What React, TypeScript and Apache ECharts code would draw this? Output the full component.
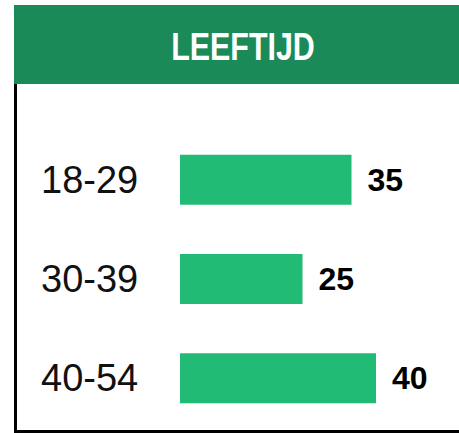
import React, { useEffect, useRef } from "react";
import * as echarts from "echarts";

const categories = ["18-29", "30-39", "40-54"];
const values = [35, 25, 40];
const titleText = "LEEFTIJD";

export default function App() {
  const ref = useRef<HTMLDivElement>(null);
  useEffect(() => {
    document.body.style.margin = "0";
    const chart = echarts.init(ref.current!, null, { renderer: "svg" });
    chart.setOption({
      animation: false,
      backgroundColor: "#ffffff",
      grid: { left: 180, right: 34, top: 130, bottom: 5 },
      xAxis: {
        type: "value",
        min: 0,
        max: 50,
        show: false,
      },
      yAxis: {
        type: "category",
        data: categories,
        inverse: true,
        axisLine: { show: false },
        axisTick: { show: false },
        splitLine: { show: false },
        axisLabel: {
          align: "left",
          margin: 139,
          color: "#111111",
          fontSize: 38,
          fontFamily: "Liberation Sans, Arial, sans-serif",
          padding: [0, 0, 6, 0],
        },
      },
      series: [
        {
          type: "bar",
          data: values,
          barWidth: 50,
          itemStyle: { color: "#22bb75" },
          label: {
            show: true,
            position: "right",
            distance: 16,
            color: "#000000",
            fontWeight: "bold",
            fontSize: 32,
            fontFamily: "Liberation Sans, Arial, sans-serif",
            padding: [4, 0, 0, 0],
          },
        },
      ],
      graphic: [
        {
          type: "rect",
          shape: { x: 14, y: 5, width: 445, height: 79 },
          style: { fill: "#1b8a59" },
        },
        {
          type: "text",
          x: 243,
          y: 47,
          scaleX: 0.8,
          style: {
            text: titleText,
            fill: "#ffffff",
            fontSize: 38,
            fontWeight: "bold",
            fontFamily: "Liberation Sans, Arial, sans-serif",
            textAlign: "center",
            textVerticalAlign: "middle",
          },
        },
        {
          type: "rect",
          shape: { x: 14, y: 84, width: 3, height: 349 },
          style: { fill: "#000000" },
        },
        {
          type: "rect",
          shape: { x: 14, y: 430, width: 445, height: 3 },
          style: { fill: "#000000" },
        },
      ],
    });
    return () => chart.dispose();
  }, []);
  return (
    <div
      ref={ref}
      style={{ position: "fixed", left: 0, top: 0, width: 459, height: 433 }}
    />
  );
}
